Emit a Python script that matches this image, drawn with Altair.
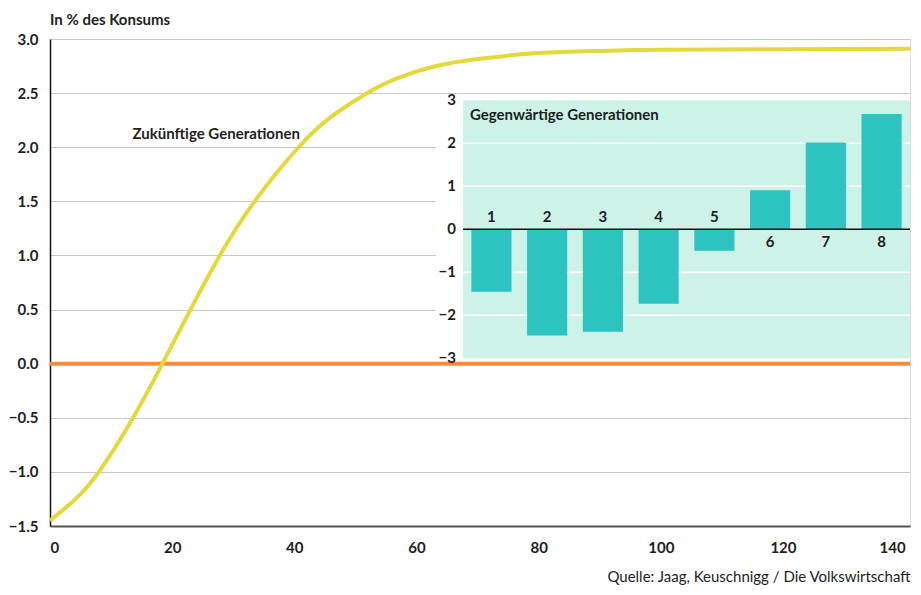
import altair as alt
import pandas as pd

# ---------------- data ----------------
# Main curve: Zukünftige Generationen (x = Jahre, y = in % des Konsums)
jahre = [0, 4, 8, 13.6, 18.4, 23, 27.8, 33.5, 40.7, 46, 51.6, 57, 63.2, 70, 80, 90, 100, 120, 140.8]
werte = [-1.45, -1.26, -1.00, -0.50, 0.00, 0.50, 1.00, 1.50, 2.00, 2.28, 2.49,
         2.64, 2.75, 2.815, 2.87, 2.89, 2.90, 2.905, 2.91]

# Inset: Gegenwärtige Generationen
generationen = ["1", "2", "3", "4", "5", "6", "7", "8"]
gen_werte = [-1.45, -2.47, -2.38, -1.73, -0.50, 0.91, 2.02, 2.68]

x_ticks = [0, 20, 40, 60, 80, 100, 120, 140]
y_ticks = [-1.5, -1.0, -0.5, 0.0, 0.5, 1.0, 1.5, 2.0, 2.5, 3.0]
inset_ticks = [3, 2, 1, 0, -1, -2, -3]
inset_tick_labels = ["3", "2", "1", "0", "\u22121", "\u22122", "\u22123"]
inset_grid = [-2, -1, 1, 2]

titel = "In % des Konsums"
quelle = "Quelle: Jaag, Keuschnigg / Die Volkswirtschaft"
label_zukunft = "Zukünftige Generationen"
label_gegenwart = "Gegenwärtige Generationen"

# ---------------- style ----------------
FONT = "Lato"
FS = 15
YELLOW = "#E4D83A"
ORANGE = "#F68B3D"
TEAL = "#2CC3C1"
MINT = "#CDF3E8"
GRID = "#C8C8C8"
TXT = "#1E1E1E"

W, H = 860, 487

df_curve = pd.DataFrame({"Jahr": jahre, "Wert": werte})
df_zero = pd.DataFrame({"Wert": [0.0]})
df_ann = pd.DataFrame({"Jahr": [13.5], "Wert": [2.12], "t": [label_zukunft]})

xs = alt.Scale(domain=[0, 140.8], nice=False, zero=False)
ys = alt.Scale(domain=[-1.5, 3.0], nice=False, zero=False)

x_axis = alt.Axis(values=x_ticks, format="d", title=quelle, grid=False, tickSize=0,
                  labelPadding=14, labelFlush=10, labelFont=FONT, labelFontSize=FS,
                  labelFontWeight="bold", labelColor=TXT, domainColor="#555555",
                  domainWidth=2, titleFont=FONT, titleFontSize=FS, titleFontWeight="normal",
                  titleColor=TXT, titleX=W, titleY=50, titleAlign="right",
                  titleBaseline="middle", titleAnchor="end")
y_axis = alt.Axis(values=y_ticks, format=".1f", title=None, grid=True, gridColor=GRID,
                  gridWidth=1, tickSize=0, labelPadding=12, labelFont=FONT,
                  labelFontSize=FS, labelFontWeight="bold", labelColor=TXT,
                  domainColor="#111111", domainWidth=1.5)

curve = alt.Chart(df_curve).mark_line(color=YELLOW, strokeWidth=4, interpolate="natural").encode(
    x=alt.X("Jahr:Q", scale=xs, axis=x_axis),
    y=alt.Y("Wert:Q", scale=ys, axis=y_axis),
)
zero_line = alt.Chart(df_zero).mark_rule(color=ORANGE, strokeWidth=4).encode(
    y=alt.Y("Wert:Q", scale=ys, axis=y_axis),
)
ann = alt.Chart(df_ann).mark_text(align="left", baseline="middle", font=FONT, fontSize=FS,
                                  fontWeight="bold", color=TXT).encode(
    x=alt.X("Jahr:Q", scale=xs, axis=x_axis),
    y=alt.Y("Wert:Q", scale=ys, axis=y_axis),
    text="t:N",
)
main = alt.layer(zero_line, curve, ann)

# ---------------- inset ----------------
IX0, IX1 = 413, W
inset_x = alt.Scale(domain=generationen, range=[IX0, IX1], paddingInner=0.28, paddingOuter=0.15)
inset_y = alt.Scale(domain=[-3, 3], range=[319.3, 61.3], nice=False, zero=False)

df_bars = pd.DataFrame({"Gruppe": generationen, "Wert": gen_werte, "Basis": [0.0] * 8})
df_panel = pd.DataFrame({"lo": [-3], "hi": [3]})
df_grid = pd.DataFrame({"v": inset_grid})
df_ticks = pd.DataFrame({"v": inset_ticks, "lab": inset_tick_labels})
df_title = pd.DataFrame({"t": [label_gegenwart]})

backing = alt.Chart(df_panel).mark_rect(color="white").encode(
    x=alt.value(386), x2=alt.value(IX1), y=alt.value(57), y2=alt.value(321))
panel = alt.Chart(df_panel).mark_rect(color=MINT).encode(
    x=alt.value(IX0), x2=alt.value(IX1),
    y=alt.Y("lo:Q", scale=inset_y, axis=None), y2="hi:Q")
igrid = alt.Chart(df_grid).mark_rule(color="white", strokeWidth=1.5).encode(
    x=alt.value(IX0), x2=alt.value(IX1), y=alt.Y("v:Q", scale=inset_y, axis=None))
bars = alt.Chart(df_bars).mark_bar(color=TEAL).encode(
    x=alt.X("Gruppe:N", scale=inset_x, axis=None, sort=generationen),
    y=alt.Y("Wert:Q", scale=inset_y, axis=None), y2="Basis:Q")
izero = alt.Chart(df_zero).mark_rule(color="#111111", strokeWidth=1.5).encode(
    x=alt.value(IX0), x2=alt.value(IX1), y=alt.Y("Wert:Q", scale=inset_y, axis=None))
lab_neg = alt.Chart(df_bars).transform_filter(alt.datum.Wert < 0).mark_text(
    dy=-12, baseline="middle", font=FONT, fontSize=FS, fontWeight="bold", color=TXT).encode(
    x=alt.X("Gruppe:N", scale=inset_x, axis=None, sort=generationen),
    y=alt.Y("Basis:Q", scale=inset_y, axis=None), text="Gruppe:N")
lab_pos = alt.Chart(df_bars).transform_filter(alt.datum.Wert >= 0).mark_text(
    dy=13, baseline="middle", font=FONT, fontSize=FS, fontWeight="bold", color=TXT).encode(
    x=alt.X("Gruppe:N", scale=inset_x, axis=None, sort=generationen),
    y=alt.Y("Basis:Q", scale=inset_y, axis=None), text="Gruppe:N")
iticks = alt.Chart(df_ticks).mark_text(align="right", baseline="middle", font=FONT,
                                       fontSize=FS, fontWeight="bold", color=TXT).encode(
    x=alt.value(406), y=alt.Y("v:Q", scale=inset_y, axis=None), text="lab:N")
ititle = alt.Chart(df_title).mark_text(align="left", baseline="middle", font=FONT,
                                       fontSize=FS, fontWeight="bold", color=TXT).encode(
    x=alt.value(420), y=alt.value(76), text="t:N")

inset = alt.layer(backing, panel, igrid, bars, izero, lab_neg, lab_pos, iticks, ititle)

chart = alt.layer(main, inset).resolve_scale(x="independent", y="independent").properties(
    width=W, height=H,
    autosize=alt.AutoSizeParams(type="none"),
    padding={"left": 42, "top": 31, "right": 1, "bottom": 60},
    title=alt.TitleParams(titel, anchor="start", frame="group", fontSize=FS, font=FONT,
                          fontWeight="bold", color=TXT, offset=4),
).configure_view(stroke=None).configure(background="white")

chart.save("out.html", embed_options={"renderer": "svg", "actions": False})
